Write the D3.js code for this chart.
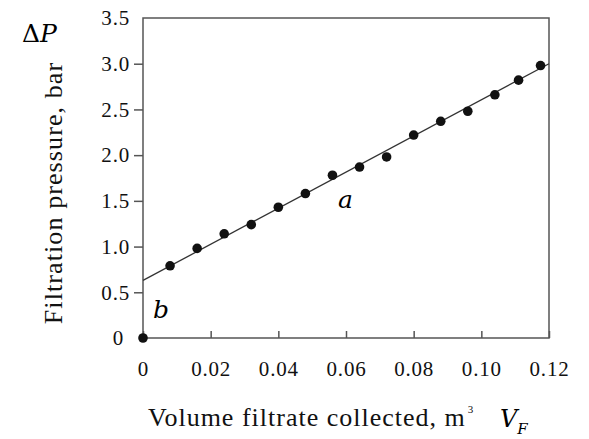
<!DOCTYPE html>
<html><head><meta charset="utf-8">
<script src="https://cdn.jsdelivr.net/npm/d3@7"></script>
<style>
body{margin:0;background:#fff;}
svg{display:block;}
.serif{font-family:"Times New Roman", Times, serif;}
.math{font-family:"DejaVu Serif", serif;}
</style></head>
<body>
<svg id="c" width="589" height="439"></svg>
<script>
const volume = [0, 0.008, 0.016, 0.024, 0.032, 0.040, 0.048, 0.056, 0.064, 0.072, 0.080, 0.088, 0.096, 0.104, 0.111, 0.1175];
const pressure = [0, 0.79, 0.98, 1.14, 1.24, 1.43, 1.58, 1.78, 1.87, 1.98, 2.22, 2.37, 2.48, 2.66, 2.82, 2.98];
const fitX = [0, 0.12];
const fitY = [0.63, 3.0];
const xTicks = [0, 0.02, 0.04, 0.06, 0.08, 0.10, 0.12];
const xTickLabels = ["0", "0.02", "0.04", "0.06", "0.08", "0.10", "0.12"];
const yTicks = [0, 0.5, 1.0, 1.5, 2.0, 2.5, 3.0, 3.5];
const yTickLabels = ["0", "0.5", "1.0", "1.5", "2.0", "2.5", "3.0", "3.5"];

const svg = d3.select("#c");
const L = 143, R = 549, T = 18, B = 338;
const x = d3.scaleLinear().domain([0, 0.12]).range([L, R]);
const y = d3.scaleLinear().domain([0, 3.5]).range([B, T]);
const axisColor = "#555";

// frame
svg.append("rect").attr("x", L).attr("y", T).attr("width", R - L).attr("height", B - T)
  .attr("fill", "none").attr("stroke", axisColor).attr("stroke-width", 1.5);

// x axis (ticks inward)
const xa = svg.append("g").attr("transform", `translate(0,${B})`)
  .call(d3.axisBottom(x).tickValues(xTicks).tickSize(-7).tickPadding(23)
    .tickFormat((d, i) => xTickLabels[i]));
xa.attr("font-family", null).attr("font-size", null);
xa.select(".domain").remove();
xa.selectAll("line").attr("stroke", axisColor).attr("stroke-width", 1.5);
xa.selectAll("text").attr("class", "serif").attr("font-size", 21).attr("letter-spacing", 0.8).attr("fill", "#111");

// y axis (ticks outward)
const ya = svg.append("g").attr("transform", `translate(${L},0)`)
  .call(d3.axisLeft(y).tickValues(yTicks).tickSize(9).tickPadding(4)
    .tickFormat((d, i) => yTickLabels[i]));
ya.attr("font-family", null).attr("font-size", null);
ya.select(".domain").remove();
ya.selectAll("line").attr("stroke", axisColor).attr("stroke-width", 1.5)
  .attr("display", d => (d === 0 || d === 3.5) ? "none" : null);
ya.selectAll("text").attr("class", "serif").attr("font-size", 21).attr("letter-spacing", 0.8).attr("fill", "#111")
  .attr("dx", d => d === 0 ? -6 : 0);

// fit line
svg.append("line")
  .attr("x1", x(fitX[0])).attr("y1", y(fitY[0]))
  .attr("x2", x(fitX[1])).attr("y2", y(fitY[1]))
  .attr("stroke", "#333").attr("stroke-width", 1.3);

// points
svg.append("g").selectAll("circle").data(volume).join("circle")
  .attr("cx", d => x(d)).attr("cy", (d, i) => y(pressure[i]))
  .attr("r", 4.8).attr("fill", "#111");

// axis titles
svg.append("text").attr("class", "serif").attr("x", 148).attr("y", 426)
  .attr("font-size", 26).attr("letter-spacing", 1).attr("fill", "#111")
  .html('Volume filtrate collected, m<tspan font-size="11" dy="-13" dx="2">3</tspan>');
svg.append("text").attr("class", "serif").attr("transform", "translate(62,193) rotate(-90)").attr("text-anchor", "middle")
  .attr("font-size", 26).attr("letter-spacing", 1.1).attr("fill", "#111")
  .text("Filtration pressure, bar");

// math annotations
svg.append("text").attr("class", "math").attr("x", 22).attr("y", 42).attr("font-size", 25).attr("fill", "#000")
  .html('Δ<tspan font-style="italic">P</tspan>');
svg.append("text").attr("class", "math").attr("x", 153).attr("y", 318).attr("font-style", "italic")
  .attr("font-size", 25).attr("fill", "#000").text("b");
svg.append("text").attr("class", "math").attr("x", 338).attr("y", 208).attr("font-style", "italic")
  .attr("font-size", 25).attr("fill", "#000").text("a");
svg.append("text").attr("class", "math").attr("x", 500).attr("y", 427).attr("font-style", "italic")
  .attr("font-size", 24).attr("fill", "#000")
  .html('V<tspan font-size="15" dy="7">F</tspan>');
</script>
</body></html>
